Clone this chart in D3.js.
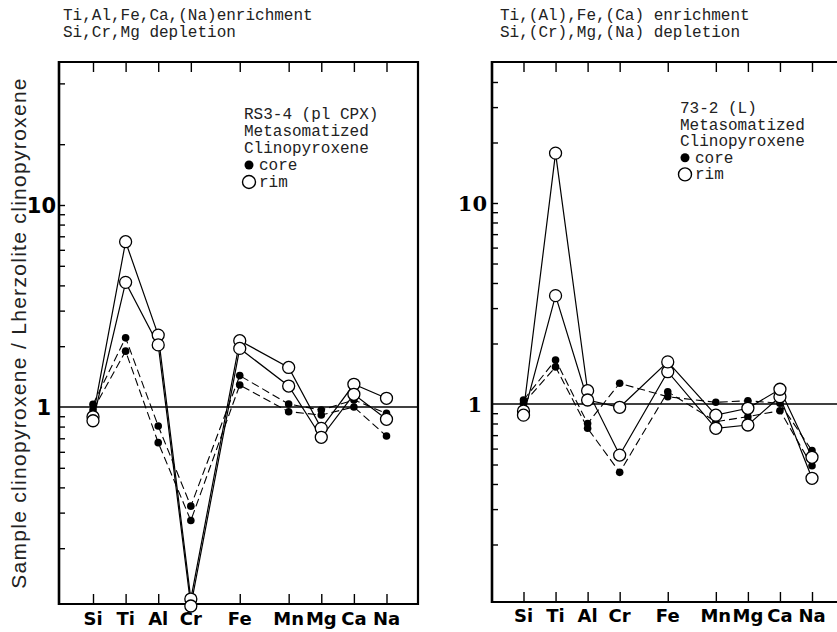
<!DOCTYPE html>
<html>
<head>
<meta charset="utf-8">
<script src="https://cdn.jsdelivr.net/npm/d3@7"></script>
<style>
body { margin: 0; background: #fff; }
</style>
</head>
<body>
<div class="container"></div>
<script>
// element order on the x axis
const elements = ["Si", "Ti", "Al", "Cr", "Fe", "Mn", "Mg", "Ca", "Na"]
// a wider step (1.5) before these elements
const wideStepBefore = ["Fe", "Mn"]

// RS3-4 (pl CPX), sample / lherzolite cpx
const rs34Core1 = [1.03, 2.20, 0.805, 0.323, 1.43, 1.035, 0.966, 1.083, 0.93]
const rs34Core2 = [0.966, 1.89, 0.666, 0.274, 1.285, 0.948, 0.913, 1.00, 0.718]
const rs34Rim1 = [0.895, 6.58, 2.27, 0.112, 2.13, 1.57, 0.784, 1.295, 1.104]
const rs34Rim2 = [0.855, 4.14, 2.03, 0.1035, 1.95, 1.27, 0.708, 1.156, 0.869]

// 73-2 (L)
const l732Core1 = [1.047, 1.655, 0.80, 1.268, 1.087, 1.02, 1.038, 1.008, 0.586]
const l732Core2 = [1.008, 1.53, 0.757, 0.457, 1.15, 0.817, 0.865, 0.926, 0.493]
const l732Rim1 = [0.923, 17.7, 1.165, 0.557, 1.448, 0.757, 0.786, 1.087, 0.427]
const l732Rim2 = [0.88, 3.46, 1.047, 0.963, 1.62, 0.88, 0.952, 1.184, 0.543]

// y ticks
const yLabelTicks = [1, 10]
const lowerTicks = [0.2, 0.3, 0.4, 0.5, 0.6, 0.7, 0.8, 0.9, 2, 3, 4, 5, 6, 7, 8, 9, 10]
const upperTicksLeft = [20, 40]
const upperTicksRight = [20, 30, 40]

const titlesLeft = ["Ti,Al,Fe,Ca,(Na)enrichment", "Si,Cr,Mg depletion"]
const titlesRight = ["Ti,(Al),Fe,(Ca) enrichment", "Si,(Cr),Mg,(Na) depletion"]
const legendLeft = ["RS3-4 (pl CPX)", "Metasomatized", "Clinopyroxene"]
const legendRight = ["73-2 (L)", "Metasomatized", "Clinopyroxene"]
const legendKeys = ["core", "rim"]
const yTitle = "Sample clinopyroxene / Lherzolite clinopyroxene"

const w = 837
const h = 632
const mono = "'Liberation Mono', 'Courier New', monospace"

// slot position of each element (1 step, 1.5 before Fe and Mn)
const slots = []
elements.forEach((el, i) => {
    if (i === 0) slots.push(0)
    else slots.push(slots[i - 1] + (wideStepBefore.includes(el) ? 1.5 : 1))
})

const panels = [
    {
        left: 59, right: 418, top: 62, bottom: 604, one: 407, decade: 202,
        xFirst: 93, xLast: 386.5,
        core: [rs34Core1, rs34Core2], rim: [rs34Rim1, rs34Rim2],
        titles: titlesLeft, titleX: 63,
        legend: legendLeft, legendX: 244, legendY: 119, legendStep: 17,
        upper: upperTicksLeft, numFont: "'DejaVu Sans'", numX: 56, labelY: 625
    },
    {
        left: 492, right: 850, top: 62, bottom: 602, one: 404, decade: 201,
        xFirst: 523.5, xLast: 812,
        core: [l732Core1, l732Core2], rim: [l732Rim1, l732Rim2],
        titles: titlesRight, titleX: 500,
        legend: legendRight, legendX: 680, legendY: 113, legendStep: 16.6,
        upper: upperTicksRight, numFont: "'DejaVu Serif'", numX: 487, labelY: 622
    }
]

const svg = d3.select(".container")
    .append("svg")
    .attr("width", w)
    .attr("height", h)
    .style("background", "#fff")

svg.append("text")
    .attr("transform", "translate(26, 333) rotate(-90)")
    .attr("text-anchor", "middle")
    .style("font-family", "'Liberation Sans', Arial, sans-serif")
    .style("font-size", "21px")
    .style("letter-spacing", "1.3px")
    .attr("fill", "#222")
    .text(yTitle)

panels.forEach(p => {
    const g = svg.append("g")

    const xScale = d3.scaleLinear()
        .domain([0, slots[slots.length - 1]])
        .range([p.xFirst, p.xLast])

    const yScale = d3.scaleLog()
        .domain([10 ** ((p.one - p.bottom) / p.decade), 10 ** ((p.one - p.top) / p.decade)])
        .range([p.bottom, p.top])

    // titles
    p.titles.forEach((t, i) => {
        g.append("text")
            .attr("x", p.titleX)
            .attr("y", 20 + i * 16.5)
            .style("font-family", mono)
            .style("font-size", "16px")
            .attr("fill", "#222")
            .text(t)
    })

    // frame
    g.append("line").attr("x1", p.left).attr("x2", p.left).attr("y1", p.top - 1).attr("y2", p.bottom + 1)
        .attr("stroke", "#000").attr("stroke-width", 2.6)
    g.append("line").attr("x1", p.left).attr("x2", p.right).attr("y1", p.top).attr("y2", p.top)
        .attr("stroke", "#000").attr("stroke-width", 2.2)
    g.append("line").attr("x1", p.left).attr("x2", p.right).attr("y1", p.bottom).attr("y2", p.bottom)
        .attr("stroke", "#000").attr("stroke-width", 2.2)
    g.append("line").attr("x1", p.right).attr("x2", p.right).attr("y1", p.top - 1).attr("y2", p.bottom + 1)
        .attr("stroke", "#000").attr("stroke-width", 2.2)

    // element ticks top and bottom
    const topAxis = d3.axisBottom(xScale).tickValues(slots).tickSize(10).tickFormat("")
    const bottomAxis = d3.axisTop(xScale).tickValues(slots).tickSize(10).tickFormat("")
    g.append("g").attr("transform", "translate(0," + p.top + ")").call(topAxis)
    g.append("g").attr("transform", "translate(0," + p.bottom + ")").call(bottomAxis)

    // log ticks on the left axis, pointing inward
    const yAxis = d3.axisRight(yScale)
        .tickValues(lowerTicks.concat(p.upper))
        .tickSize(6)
        .tickFormat("")
    g.append("g").attr("transform", "translate(" + p.left + ",0)").call(yAxis)

    g.selectAll(".domain").remove()
    g.selectAll(".tick line").attr("stroke", "#000").attr("stroke-width", 1.4)

    // tick labels 1 and 10
    g.selectAll(".ylab")
        .data(yLabelTicks)
        .enter()
        .append("text")
        .attr("x", (d) => d === 1 ? p.numX - 5 : p.numX)
        .attr("y", (d) => yScale(d))
        .attr("dy", "0.36em")
        .attr("text-anchor", "end")
        .style("font-family", p.numFont)
        .style("font-weight", "bold")
        .style("font-size", "21px")
        .text((d) => d)

    // element labels
    g.selectAll(".xlab")
        .data(elements)
        .enter()
        .append("text")
        .attr("x", (d, i) => xScale(slots[i]))
        .attr("y", p.labelY)
        .attr("text-anchor", "middle")
        .style("font-family", "'DejaVu Sans', sans-serif")
        .style("font-weight", "bold")
        .style("font-size", "18px")
        .text((d) => d)

    // reference line at 1
    g.append("line")
        .attr("x1", p.left).attr("x2", p.right)
        .attr("y1", yScale(1)).attr("y2", yScale(1))
        .attr("stroke", "#000").attr("stroke-width", 1.3)

    const line = d3.line()
        .x((d, i) => xScale(slots[i]))
        .y((d) => yScale(d))

    p.core.forEach(series => {
        g.append("path")
            .datum(series)
            .attr("d", line)
            .attr("fill", "none")
            .attr("stroke", "#000")
            .attr("stroke-width", 1.1)
            .attr("stroke-dasharray", "8,4")
    })
    p.rim.forEach(series => {
        g.append("path")
            .datum(series)
            .attr("d", line)
            .attr("fill", "none")
            .attr("stroke", "#000")
            .attr("stroke-width", 1.2)
    })

    p.core.forEach(series => {
        g.selectAll(null)
            .data(series)
            .enter()
            .append("circle")
            .attr("cx", (d, i) => xScale(slots[i]))
            .attr("cy", (d) => yScale(d))
            .attr("r", 3.8)
            .attr("fill", "#000")
    })
    p.rim.forEach(series => {
        g.selectAll(null)
            .data(series)
            .enter()
            .append("circle")
            .attr("cx", (d, i) => xScale(slots[i]))
            .attr("cy", (d) => yScale(d))
            .attr("r", 6)
            .attr("fill", "#fff")
            .attr("stroke", "#000")
            .attr("stroke-width", 1.3)
    })

    // legend
    p.legend.forEach((t, i) => {
        g.append("text")
            .attr("x", p.legendX)
            .attr("y", p.legendY + i * p.legendStep)
            .style("font-family", mono)
            .style("font-size", "16px")
            .attr("fill", "#222")
            .text(t)
    })
    legendKeys.forEach((k, i) => {
        const yy = p.legendY + (3 + i) * p.legendStep
        g.append("circle")
            .attr("cx", p.legendX + 5)
            .attr("cy", yy - 5)
            .attr("r", i === 0 ? 4.5 : 6.5)
            .attr("fill", i === 0 ? "#000" : "#fff")
            .attr("stroke", "#000")
            .attr("stroke-width", i === 0 ? 0 : 1.4)
        g.append("text")
            .attr("x", p.legendX + 15)
            .attr("y", yy)
            .style("font-family", mono)
            .style("font-size", "16px")
            .attr("fill", "#222")
            .text(k)
    })
})
</script>
</body>
</html>
